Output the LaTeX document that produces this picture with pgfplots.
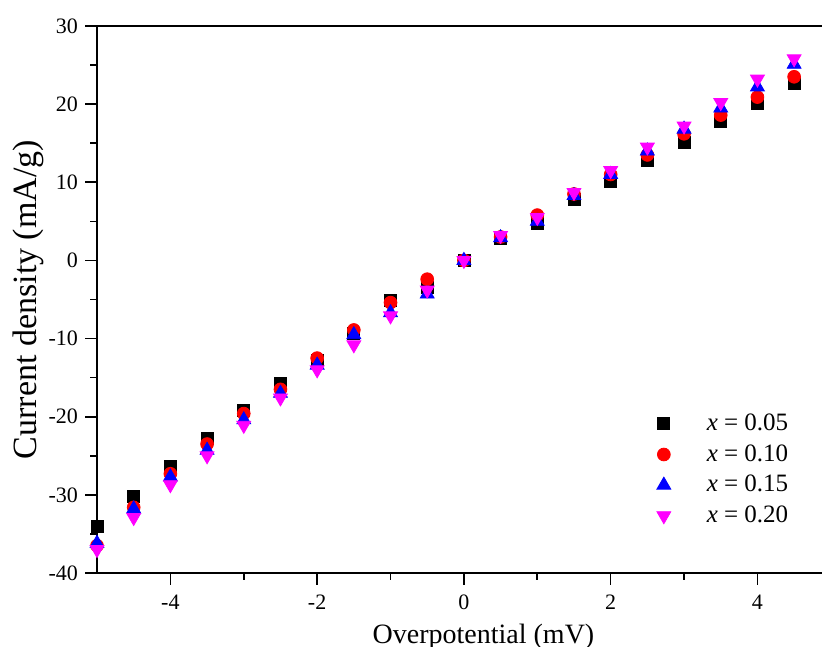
\documentclass[border=0pt]{standalone}
\usepackage{pgfplots}
\pgfplotsset{compat=1.18}
\usepackage{fontspec}
\setmainfont{Liberation Serif}
\definecolor{mag}{RGB}{255,0,255}

\begin{document}
\begin{tikzpicture}
\begin{axis}[
    scale only axis,
    width=362.5pt, height=273.5pt,
    xmin=-5, xmax=4.88,
    ymin=-40, ymax=30,
    xtick={-4,-2,0,2,4},
    ytick={-40,-30,-20,-10,0,10,20,30},
    minor x tick num=1,
    minor y tick num=1,
    axis x line*=box,
    axis y line*=left,
    xtick pos=bottom,
    ytick pos=left,
    tick align=outside,
    major tick length=6pt,
    minor tick length=3.5pt,
    every tick/.style={black, line width=0.8pt},
    axis line style={line width=1pt},
    /pgf/number format/assume math mode=true,
    tick label style={font=\fontsize{11}{13}\selectfont},
    xticklabel style={yshift=-1.5pt},
    xlabel={Overpotential (mV)},
    ylabel={Current density (mA/g)},
    xlabel style={font=\fontsize{14}{16}\selectfont, at={(rel axis cs:0.5,0)}, anchor=center, yshift=-32pt, xshift=12pt},
    ylabel style={font=\fontsize{17}{19}\selectfont, at={(rel axis cs:0,0.5)}, anchor=center, yshift=34.5pt},
    legend style={draw=none, fill=none, at={(0.965,0.075)}, anchor=south east,
        font=\fontsize{12.5}{14}\selectfont, row sep=3.5pt, column sep=17pt,
        nodes={inner sep=1pt}},
    legend cell align=left,
    clip=false,
]
\addplot[only marks, mark=square*, mark size=3pt, color=black] coordinates {
    (-5,-34.1) (-4.5,-30.2) (-4,-26.4) (-3.5,-22.8) (-3,-19.2) (-2.5,-15.8)
    (-2,-12.8) (-1.5,-9.3) (-1,-5.1) (-0.5,-3.5) (0,0) (0.5,2.8)
    (1,4.7) (1.5,7.8) (2,10.1) (2.5,12.8) (3,15.1) (3.5,17.8)
    (4,20.1) (4.5,22.6)
};
\addlegendentry{\textit{x} = 0.05}
\addplot[only marks, mark=*, mark size=3.2pt, color=red] coordinates {
    (-5,-36.5) (-4.5,-31.6) (-4,-27.3) (-3.5,-23.5) (-3,-19.6) (-2.5,-16.5)
    (-2,-12.5) (-1.5,-8.9) (-1,-5.4) (-0.5,-2.4) (0,0) (0.5,3.0)
    (1,5.8) (1.5,8.5) (2,11.0) (2.5,13.5) (3,16.2) (3.5,18.6)
    (4,20.9) (4.5,23.5)
};
\addlegendentry{\textit{x} = 0.10}
\addplot[only marks, mark=triangle*, mark size=4pt, color=blue] coordinates {
    (-5,-36.2) (-4.5,-31.8) (-4,-27.7) (-3.5,-24.3) (-3,-20.4) (-2.5,-17.0)
    (-2,-13.4) (-1.5,-9.5) (-1,-6.7) (-0.5,-4.3) (0,0) (0.5,2.9)
    (1,5.0) (1.5,8.3) (2,11.0) (2.5,14.0) (3,16.8) (3.5,19.5)
    (4,22.2) (4.5,25.1)
};
\addlegendentry{\textit{x} = 0.15}
\addplot[only marks, mark=triangle*, mark size=4pt, color=mag,
    mark options={rotate=180}] coordinates {
    (-5,-37.0) (-4.5,-32.9) (-4,-28.7) (-3.5,-25.0) (-3,-21.1) (-2.5,-17.6)
    (-2,-14.0) (-1.5,-10.8) (-1,-7.1) (-0.5,-3.8) (0,0) (0.5,3.2)
    (1,5.5) (1.5,8.7) (2,11.5) (2.5,14.5) (3,17.2) (3.5,20.2)
    (4,23.2) (4.5,25.8)
};
\addlegendentry{\textit{x} = 0.20}
\coordinate (ll) at (rel axis cs:0,0);
\coordinate (ur) at (rel axis cs:1,1);
\end{axis}
\pgfresetboundingbox
\path ([shift={(-48.5pt,-37pt)}]ll) rectangle ([shift={(0pt,13pt)}]ur);
\end{tikzpicture}
\end{document}
